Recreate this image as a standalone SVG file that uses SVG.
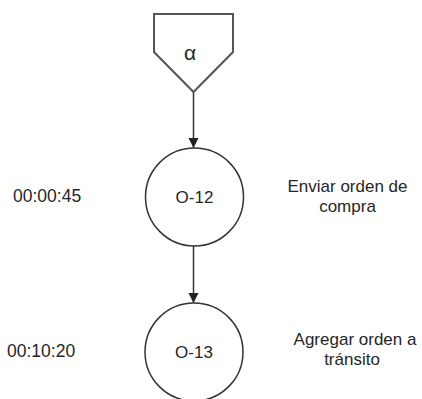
<svg xmlns="http://www.w3.org/2000/svg" width="422" height="399" viewBox="0 0 422 399">
  <style>
    .shape { fill: #ffffff; stroke: #333333; stroke-width: 1.5; }
    .start { fill: #ffffff; stroke: #555555; stroke-width: 2; }
    .edge { fill: none; stroke: #333333; stroke-width: 1.5; }
    .lbl { font-family: "Liberation Sans", Arial, sans-serif; font-size: 17px; fill: #262626; }
    .mid { text-anchor: middle; }
    .time { font-size: 17.5px; }
  </style>
  <defs>
    <marker id="arrow" viewBox="0 0 10 10" refX="10" refY="5" markerWidth="10" markerHeight="13" markerUnits="userSpaceOnUse" orient="auto">
      <path d="M0,0 L10,5 L0,10 Z" fill="#222222"/>
    </marker>
  </defs>
  <rect width="422" height="399" fill="#ffffff"/>

  <!-- connectors -->
  <g id="connectors">
    <line class="edge" x1="193.5" y1="92" x2="193.5" y2="148" marker-end="url(#arrow)"/>
    <line class="edge" x1="193.5" y1="246" x2="193.5" y2="303" marker-end="url(#arrow)"/>
  </g>

  <!-- off-page start symbol -->
  <g id="start">
    <polygon class="start" points="154,14 233,14 233,52 193.5,92 154,52"/>
    <text class="lbl mid" x="190" y="60" style="font-size:21px">α</text>
  </g>

  <!-- operation O-12 -->
  <g id="op12">
    <circle class="shape" cx="194.5" cy="197" r="49"/>
    <text class="lbl mid" x="194.5" y="203">O-12</text>
    <text class="lbl time" x="13" y="202">00:00:45</text>
    <text class="lbl mid" x="347.5" y="192">Enviar orden de</text>
    <text class="lbl mid" x="347.5" y="212">compra</text>
  </g>

  <!-- operation O-13 -->
  <g id="op13">
    <circle class="shape" cx="194" cy="352" r="49"/>
    <text class="lbl mid" x="194" y="358">O-13</text>
    <text class="lbl time" x="7" y="357">00:10:20</text>
    <text class="lbl mid" x="355" y="345">Agregar orden a</text>
    <text class="lbl mid" x="352" y="365">tránsito</text>
  </g>
</svg>
